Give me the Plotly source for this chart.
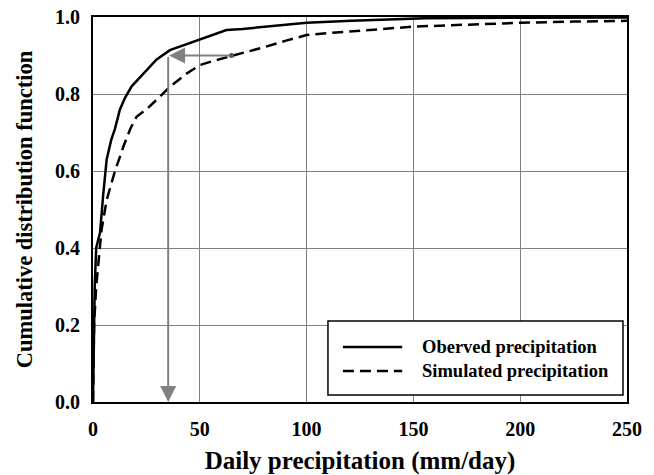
import plotly.graph_objects as go

# Observed precipitation CDF
obs_x = [0, 0.3, 0.8, 1.5, 3.3, 4.8, 6.4, 8.5, 10.3, 12.6, 15, 18.1, 21.5, 25.1, 29.8, 36, 43, 50, 56, 62.5, 70, 78, 90, 100, 121, 156, 200, 250]
obs_y = [0, 0.2, 0.3, 0.4, 0.44, 0.54, 0.63, 0.68, 0.71, 0.76, 0.79, 0.82, 0.84, 0.86, 0.89, 0.914, 0.928, 0.94, 0.953, 0.966, 0.969, 0.973, 0.98, 0.985, 0.99, 0.997, 0.998, 0.999]

# Simulated precipitation CDF
sim_x = [0, 0.5, 1.5, 3.3, 4.0, 6.4, 8.3, 10.3, 14.2, 17.5, 20.4, 25, 31.3, 36, 43.8, 50, 57, 64, 72, 81, 90, 100, 110, 130, 150, 175, 200, 225, 250]
sim_y = [0, 0.2, 0.3, 0.4, 0.447, 0.525, 0.565, 0.60, 0.663, 0.71, 0.741, 0.76, 0.793, 0.819, 0.853, 0.875, 0.887, 0.897, 0.91, 0.923, 0.938, 0.953, 0.958, 0.967, 0.975, 0.98, 0.985, 0.988, 0.99]

# Quantile-mapping arrows
arrow_h_from = (64.8, 0.9)
arrow_h_to = (35.6, 0.9)
arrow_v_from = (35.2, 0.9)
arrow_v_to = (35.2, 0.0)

x_ticks = [0, 50, 100, 150, 200, 250]
y_ticks = [0.0, 0.2, 0.4, 0.6, 0.8, 1.0]
y_tick_text = ["0.0", "0.2", "0.4", "0.6", "0.8", "1.0"]

series_names = ["Oberved precipitation", "Simulated precipitation"]

FONT = "Liberation Serif"
GRAY = "#808080"
DASH = "11px,6px"

fig = go.Figure()

fig.add_trace(go.Scatter(x=obs_x, y=obs_y, mode="lines", name=series_names[0],
                         line=dict(color="black", width=2.5)))
fig.add_trace(go.Scatter(x=sim_x, y=sim_y, mode="lines", name=series_names[1],
                         line=dict(color="black", width=2.5, dash=DASH)))

# start dot of horizontal arrow
fig.add_trace(go.Scatter(x=[arrow_h_from[0]], y=[arrow_h_from[1]], mode="markers",
                         marker=dict(color="#555555", size=5), showlegend=False, hoverinfo="skip"))

fig.add_annotation(x=arrow_h_to[0], y=arrow_h_to[1], ax=arrow_h_from[0], ay=arrow_h_from[1],
                   xref="x", yref="y", axref="x", ayref="y", text="", showarrow=True,
                   arrowhead=2, arrowsize=1.6, arrowwidth=2, arrowcolor=GRAY)
fig.add_annotation(x=arrow_v_to[0], y=arrow_v_to[1], ax=arrow_v_from[0], ay=arrow_v_from[1],
                   xref="x", yref="y", axref="x", ayref="y", text="", showarrow=True,
                   arrowhead=2, arrowsize=1.6, arrowwidth=2, arrowcolor=GRAY)

# Legend box (drawn in paper coordinates to match the long line samples)
fig.add_shape(type="rect", xref="paper", yref="paper", x0=0.440, x1=0.9925, y0=0.018, y1=0.2104,
              line=dict(color="black", width=1.5), fillcolor="white", layer="above")
legend_rows = [0.143, 0.0805]
legend_dash = ["solid", DASH]
for name, yy, dash in zip(series_names, legend_rows, legend_dash):
    fig.add_shape(type="line", xref="paper", yref="paper", x0=0.468, x1=0.579, y0=yy, y1=yy,
                  line=dict(color="black", width=2.5, dash=dash), layer="above")
    fig.add_annotation(x=0.612, y=yy, xref="paper", yref="paper", text=name, showarrow=False,
                       xanchor="left", yanchor="middle",
                       font=dict(family=FONT, size=18.5, color="black", weight="bold"))

fig.update_layout(
    width=654, height=475,
    margin=dict(l=93, r=27, t=17, b=73),
    paper_bgcolor="white", plot_bgcolor="white",
    font=dict(family=FONT, color="black"),
    showlegend=False,
    xaxis=dict(range=[0, 250], tickvals=x_ticks, showgrid=True, gridcolor=GRAY, gridwidth=1.2,
               showline=True, linecolor="black", linewidth=2, mirror=True, zeroline=False,
               automargin=False,
               ticks="", ticklabelstandoff=8, tickfont=dict(family=FONT, size=20, weight="bold"),
               title=dict(text="Daily precipitation (mm/day)", standoff=12,
                          font=dict(family=FONT, size=25, weight="bold"))),
    yaxis=dict(range=[0, 1.0], tickvals=y_ticks, ticktext=y_tick_text, showgrid=True,
               gridcolor=GRAY, gridwidth=1.2,
               showline=True, linecolor="black", linewidth=2, mirror=True, zeroline=False,
               automargin=False,
               ticks="", ticklabelstandoff=7, tickfont=dict(family=FONT, size=20, weight="bold"),
               title=dict(text="Cumulative distribution function", standoff=16,
                          font=dict(family=FONT, size=22.5, weight="bold"))),
)

fig.write_html("out.html")
